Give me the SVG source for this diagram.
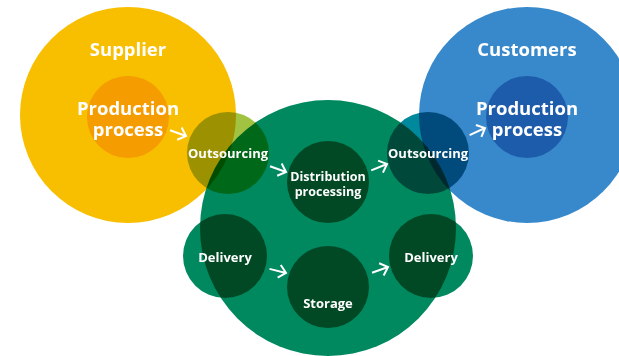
<svg xmlns="http://www.w3.org/2000/svg" width="619" height="356" viewBox="0 0 619 356">
<defs>
<style>
.t{font-family:"Open Sans","Liberation Sans",sans-serif;font-weight:bold;fill:#fff;text-anchor:middle}
.big{font-size:18.5px}
.mid{font-size:13px}
.sm{font-size:12.5px}
.m{mix-blend-mode:multiply}
.arr{fill:none;stroke:#fff;stroke-width:2;stroke-linejoin:miter}
</style>
<path id="ah" d="M-17,0 L0,0 M-7,-6.5 L0,0 L-7,6.5"/>
</defs>
<rect width="619" height="356" fill="#fff"/>
<g id="supplier">
<circle cx="128" cy="115" r="108" fill="#F8BE00"/>
<circle cx="128" cy="117" r="41" fill="#F49C00"/>
<text class="t big" x="128" y="56">Supplier</text>
<text class="t big" x="128" y="115">Production</text>
<text class="t big" x="128" y="136">process</text>
</g>
<g id="customers">
<circle cx="527" cy="115" r="108" fill="#3889CB"/>
<circle cx="527" cy="117" r="41" fill="#1D5BAB"/>
<text class="t big" x="527" y="56">Customers</text>
<text class="t big" x="527" y="115">Production</text>
<text class="t big" x="527" y="136">process</text>
</g>
<g id="distribution-center">
<circle class="m" cx="328" cy="228" r="128" fill="#00885F"/>
</g>
<g id="outsourcing-left">
<circle class="m" cx="228" cy="153" r="41" fill="#A1C341"/>
<text class="t mid" x="228" y="158">Outsourcing</text>
</g>
<g id="outsourcing-right">
<circle class="m" cx="428" cy="153" r="41" fill="#00899C"/>
<text class="t mid" x="428" y="158">Outsourcing</text>
</g>
<g id="distribution-processing">
<circle class="m" cx="328" cy="182" r="41" fill="#00885F"/>
<text class="t sm" x="328" y="181">Distribution</text>
<text class="t sm" x="328" y="196">processing</text>
</g>
<g id="delivery-left">
<circle class="m" cx="225" cy="256" r="42" fill="#00885F"/>
<text class="t mid" x="225" y="262">Delivery</text>
</g>
<g id="storage">
<circle class="m" cx="328" cy="287" r="41" fill="#00885F"/>
<text class="t mid" x="328" y="308">Storage</text>
</g>
<g id="delivery-right">
<circle class="m" cx="431" cy="256" r="42" fill="#00885F"/>
<text class="t mid" x="431" y="262">Delivery</text>
</g>
<g id="connectors" class="arr">
<use href="#ah" transform="translate(186,136) rotate(20)"/>
<use href="#ah" transform="translate(286,172) rotate(20)"/>
<use href="#ah" transform="translate(387,164) rotate(-22)"/>
<use href="#ah" transform="translate(485,128) rotate(-25)"/>
<use href="#ah" transform="translate(286,273) rotate(14)"/>
<use href="#ah" transform="translate(388,267) rotate(-20)"/>
</g>
</svg>
